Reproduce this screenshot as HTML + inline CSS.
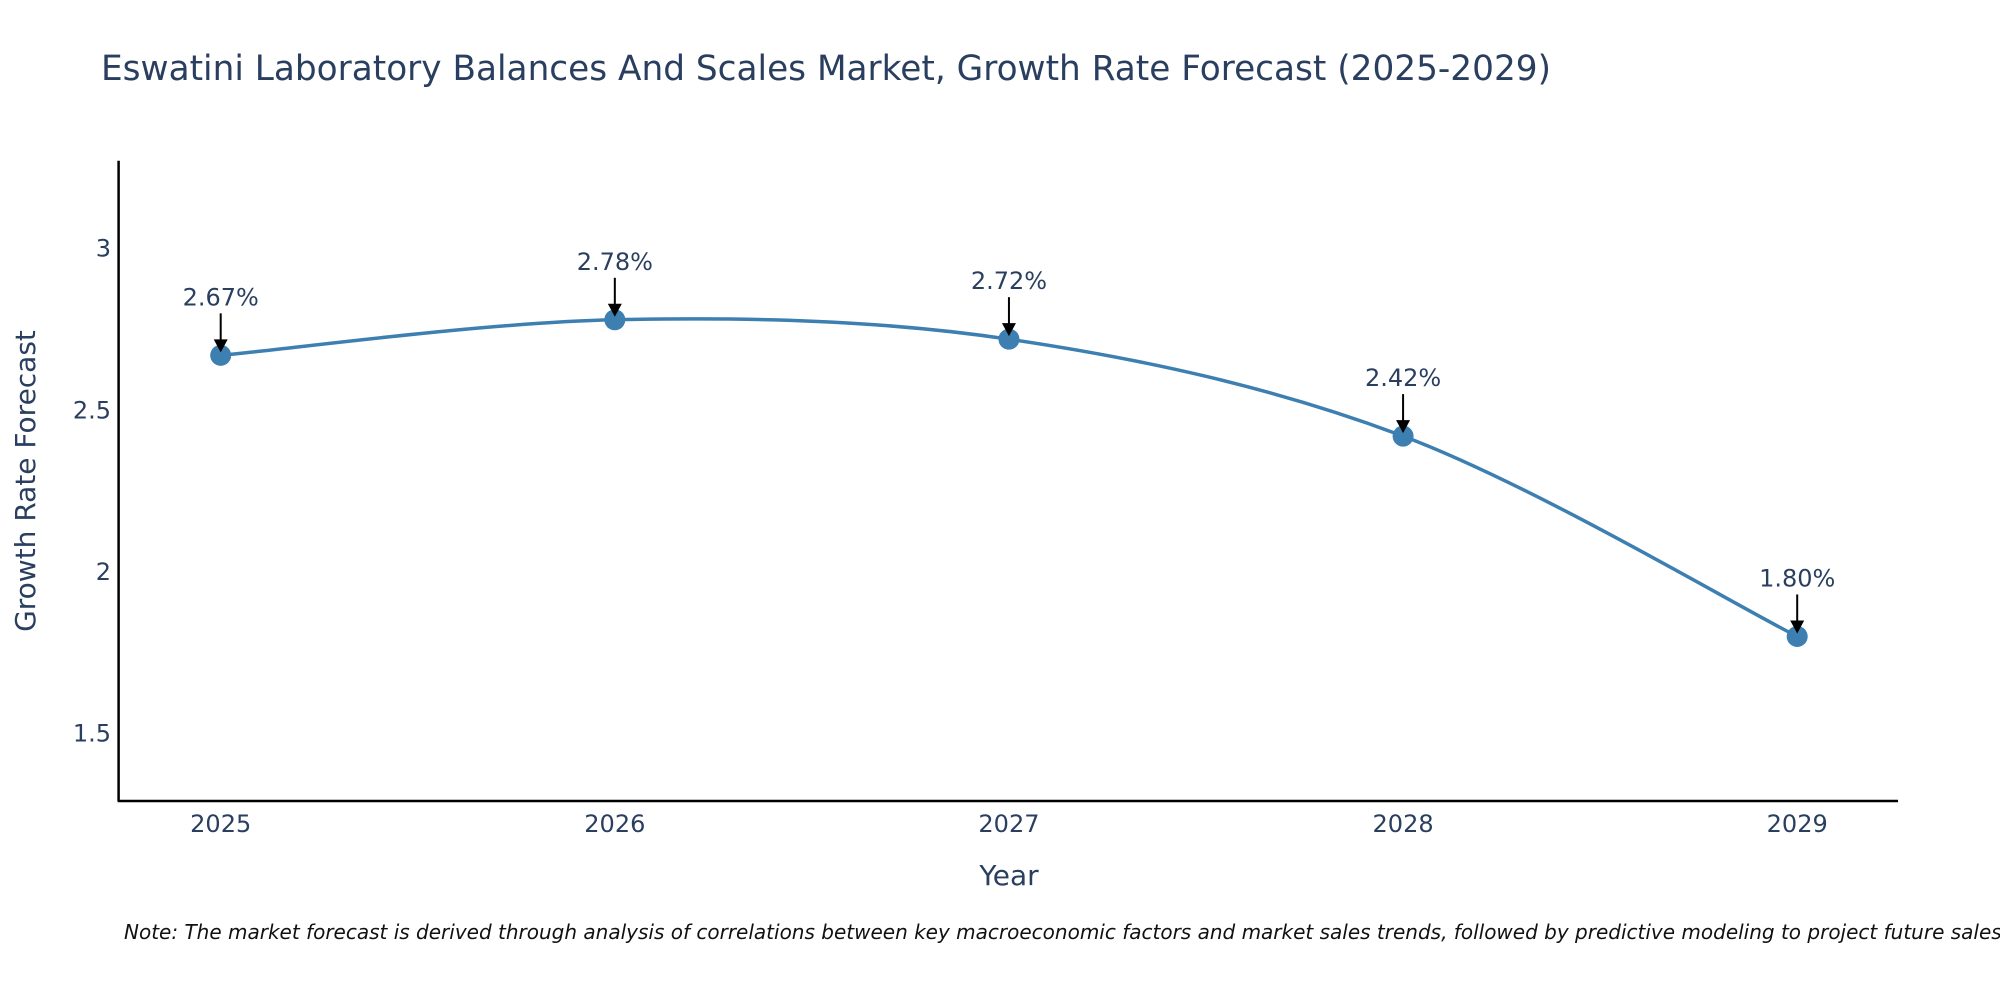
<!DOCTYPE html>
<html><head><meta charset="utf-8"><style>
body{margin:0;background:#fff;}
svg{display:block;font-family:"DejaVu Sans","Liberation Sans",sans-serif;}
</style></head><body>
<svg id="chart" width="2000" height="1000" viewBox="0 0 2000 1000">
<text x="101" y="80" font-size="34.3" fill="#2a3f5f">Eswatini Laboratory Balances And Scales Market, Growth Rate Forecast (2025-2029)</text>
<g id="axes"></g>
<g id="series"></g>
<text x="124" y="939" font-size="20" font-style="italic" fill="#111">Note: The market forecast is derived through analysis of correlations between key macroeconomic factors and market sales trends, followed by predictive modeling to project future sales.</text>
</svg>
<script>
const years = [2025, 2026, 2027, 2028, 2029];
const growth = [2.67, 2.78, 2.72, 2.42, 1.80];
const labels = ["2.67%", "2.78%", "2.72%", "2.42%", "1.80%"];
const yTicks = [1.5, 2, 2.5, 3];

const NS = "http://www.w3.org/2000/svg";
const L = 118.6, R = 1898, T = 160.7, B = 801;
const xs = v => 220.7 + (v - 2025) * (1797.2 - 220.7) / 4;
const ys = v => 733.4 - (v - 1.5) * (733.4 - 248.7) / 1.5;
function mk(tag, attrs, parent) {
  const e = document.createElementNS(NS, tag);
  for (const k in attrs) e.setAttribute(k, attrs[k]);
  parent.appendChild(e);
  return e;
}
const axes = document.getElementById('axes');
const ser = document.getElementById('series');

const yl = mk('line', {x1: L, y1: T, x2: L, y2: B, stroke: '#000', 'stroke-width': 2.5}, axes);


const xl = mk('line', {x1: L - 1, y1: B, x2: R, y2: B, stroke: '#000', 'stroke-width': 2.5}, axes);



yTicks.forEach(t => {
  const tx = mk('text', {x: 111, y: ys(t) + 8, 'font-size': 24, fill: '#2a3f5f', 'text-anchor': 'end'}, axes);
  tx.textContent = String(t);
  
  
});
years.forEach(y => {
  const tx = mk('text', {x: xs(y), y: 832, 'font-size': 24, fill: '#2a3f5f', 'text-anchor': 'middle'}, axes);
  tx.textContent = String(y);
  
  
});
const xt = mk('text', {x: 1009, y: 885, 'font-size': 28, fill: '#2a3f5f', 'text-anchor': 'middle'}, axes);
xt.textContent = 'Year';


const yt = mk('text', {x: 0, y: 0, 'font-size': 28, fill: '#2a3f5f', 'text-anchor': 'middle', transform: 'translate(35,481) rotate(-90)'}, axes);
yt.textContent = 'Growth Rate Forecast';



const pts = years.map((y, i) => [xs(y), ys(growth[i])]);
let d = `M${pts[0][0]},${pts[0][1]}`;
for (let i = 0; i < pts.length - 1; i++) {
  const p0 = pts[Math.max(0, i - 1)], p1 = pts[i], p2 = pts[i + 1], p3 = pts[Math.min(pts.length - 1, i + 2)];
  const k = 1 / 6;
  const c1 = [p1[0] + (p2[0] - p0[0]) * k, p1[1] + (p2[1] - p0[1]) * k];
  const c2 = [p2[0] - (p3[0] - p1[0]) * k, p2[1] - (p3[1] - p1[1]) * k];
  d += ` C${c1[0]},${c1[1]} ${c2[0]},${c2[1]} ${p2[0]},${p2[1]}`;
}
const line = mk('path', {d: d, fill: 'none', stroke: '#3d7fb0', 'stroke-width': 3.5}, ser);



pts.forEach((p, i) => {
  const c = mk('circle', {cx: p[0], cy: p[1], r: 10.5, fill: '#3d7fb0'}, ser);
  
  
  const a = mk('line', {x1: p[0], y1: p[1] - 42, x2: p[0], y2: p[1] - 14, stroke: '#000', 'stroke-width': 2}, ser);
  
  
  const h = mk('polygon', {points: `${p[0]-7},${p[1]-16} ${p[0]+7},${p[1]-16} ${p[0]},${p[1]-3}`, fill: '#000'}, ser);
  
  
  const t = mk('text', {x: p[0], y: p[1] - 50, 'font-size': 24, fill: '#2a3f5f', 'text-anchor': 'middle'}, ser);
  t.textContent = labels[i];
  
  
});
</script>
</body></html>
